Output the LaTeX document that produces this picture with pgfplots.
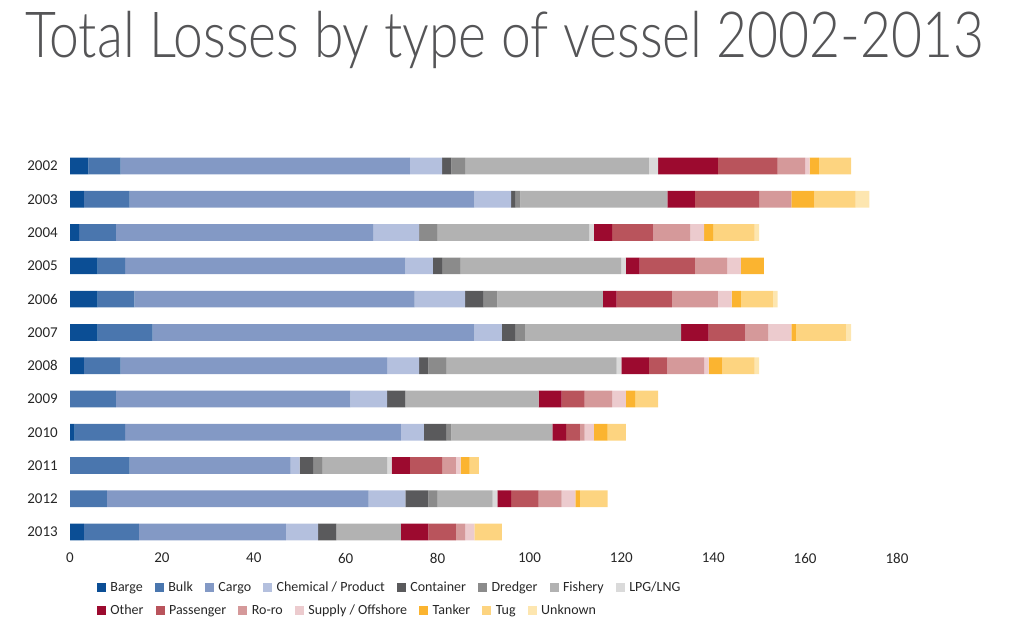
\documentclass[border=0pt]{standalone}
\usepackage{pgfplots}
\pgfplotsset{compat=1.18}
\usepackage{pgfplotstable}
\usepackage{fontspec}
\setmainfont{Carlito}
\newfontfamily\titlefont{Lato Light}[FakeStretch=0.84]

\definecolor{cBarge}{HTML}{0B4E95}
\definecolor{cBulk}{HTML}{4A76AE}
\definecolor{cCargo}{HTML}{8399C5}
\definecolor{cChem}{HTML}{B4C0DE}
\definecolor{cCont}{HTML}{5A5A5C}
\definecolor{cDredger}{HTML}{8B8B8B}
\definecolor{cFishery}{HTML}{B2B2B2}
\definecolor{cLPG}{HTML}{DADADA}
\definecolor{cOther}{HTML}{9C0A2F}
\definecolor{cPass}{HTML}{B9545C}
\definecolor{cRoro}{HTML}{D5999A}
\definecolor{cSupply}{HTML}{ECCBCE}
\definecolor{cTanker}{HTML}{FBB430}
\definecolor{cTug}{HTML}{FDD480}
\definecolor{cUnknown}{HTML}{FDE6B0}
\definecolor{titlegray}{HTML}{555557}
\definecolor{textgray}{HTML}{262626}

\pgfplotstableread{
idx Barge Bulk Cargo Chem Cont Dredger Fishery LPG Other Pass Roro Supply Tanker Tug Unknown
0   4  7  63  7  2  3  40  2  13 13  6  1  2  7  0
1   3  10 75  8  1  1  32  0  6  14  7  0  5  9  3
2   2  8  56  10 0  4  33  1  4  9   8  3  2  9  1
3   6  6  61  6  2  4  35  1  3  12  7  3  5  0  0
4   6  8  61  11 4  3  23  0  3  12  10 3  2  7  1
5   6  12 70  6  3  2  34  0  6  8   5  5  1  11 1
6   3  8  58  7  2  4  37  1  6  4   8  1  3  7  1
7   0  10 51  8  4  0  29  0  5  5   6  3  2  5  0
8   1  11 60  5  5  1  22  0  3  3   1  2  3  4  0
9   0  13 35  2  3  2  14  1  4  7   3  1  2  2  0
10  0  8  57  8  5  2  12  1  3  6   5  3  1  6  0
11  3  12 32  7  4  0  14  0  6  6   2  2  0  6  0
}\losses

\pgfplotsset{
  commonaxis/.style={
    at={(70pt,-149.4pt)}, anchor=north west,
    scale only axis, width=827pt, height=399.3pt,
    xmin=0, xmax=180, ymin=-0.5, ymax=11.5, y dir=reverse,
    legend style={draw=none, fill=none, inner sep=0pt, anchor=west,
      legend columns=-1,
      nodes={inner sep=0pt, font=\fontsize{14}{16}\selectfont, text=textgray,
             text height=7pt, text depth=3pt},
      /tikz/every odd column/.append style={column sep=4.5pt},
      /tikz/every even column/.append style={column sep=12pt}},
    legend cell align=left,
  },
  sqlegend/.style={
    legend image code/.code={\fill[##1,draw=none] (0pt,-3pt) rectangle (9pt,6pt);},
  },
}

\begin{document}
\begin{tikzpicture}
\path (0pt,0pt) rectangle (1010pt,-631pt);
\node[anchor=base west, inner sep=0pt, text=titlegray,
      font=\titlefont\fontsize{63.6}{72}\selectfont] at (25pt,-57.3pt)
      {Total Losses by type of vessel 2002-2013};

\begin{axis}[
  commonaxis,
  xbar stacked, bar width=16.7pt,
  sqlegend,
  axis line style={draw=none}, major tick length=0pt, tick style={draw=none},
  xtick={0,20,...,180}, ytick={0,...,11},
  yticklabels={2002,2003,2004,2005,2006,2007,2008,2009,2010,2011,2012,2013},
  /pgf/number format/assume math mode=true,
  tick label style={font=\fontsize{15}{17}\selectfont, text=textgray, inner sep=0pt},
  xticklabel style={anchor=center, yshift=-9.4pt},
  yticklabel style={anchor=east, xshift=-12pt},
  every axis plot/.append style={draw=none},
  legend style={at={(0.0323,-0.1)}},
]
\addplot[fill=cBarge]    table[x=Barge,   y=idx] {\losses};
\addplot[fill=cBulk]     table[x=Bulk,    y=idx] {\losses};
\addplot[fill=cCargo]    table[x=Cargo,   y=idx] {\losses};
\addplot[fill=cChem]     table[x=Chem,    y=idx] {\losses};
\addplot[fill=cCont]     table[x=Cont,    y=idx] {\losses};
\addplot[fill=cDredger]  table[x=Dredger, y=idx] {\losses};
\addplot[fill=cFishery]  table[x=Fishery, y=idx] {\losses};
\addplot[fill=cLPG]      table[x=LPG,     y=idx] {\losses};
\addplot[fill=cOther]    table[x=Other,   y=idx] {\losses};
\addplot[fill=cPass]     table[x=Pass,    y=idx] {\losses};
\addplot[fill=cRoro]     table[x=Roro,    y=idx] {\losses};
\addplot[fill=cSupply]   table[x=Supply,  y=idx] {\losses};
\addplot[fill=cTanker]   table[x=Tanker,  y=idx] {\losses};
\addplot[fill=cTug]      table[x=Tug,     y=idx] {\losses};
\addplot[fill=cUnknown]  table[x=Unknown, y=idx] {\losses};
\legend{Barge,Bulk,Cargo,Chemical / Product,Container,Dredger,Fishery,LPG/LNG}
\end{axis}

\begin{axis}[
  commonaxis, hide axis, sqlegend,
  legend style={at={(0.0323,-0.1576)}},
]
\addlegendimage{fill=cOther}\addlegendentry{Other}
\addlegendimage{fill=cPass}\addlegendentry{Passenger}
\addlegendimage{fill=cRoro}\addlegendentry{Ro-ro}
\addlegendimage{fill=cSupply}\addlegendentry{Supply / Offshore}
\addlegendimage{fill=cTanker}\addlegendentry{Tanker}
\addlegendimage{fill=cTug}\addlegendentry{Tug}
\addlegendimage{fill=cUnknown}\addlegendentry{Unknown}
\end{axis}
\end{tikzpicture}
\end{document}
